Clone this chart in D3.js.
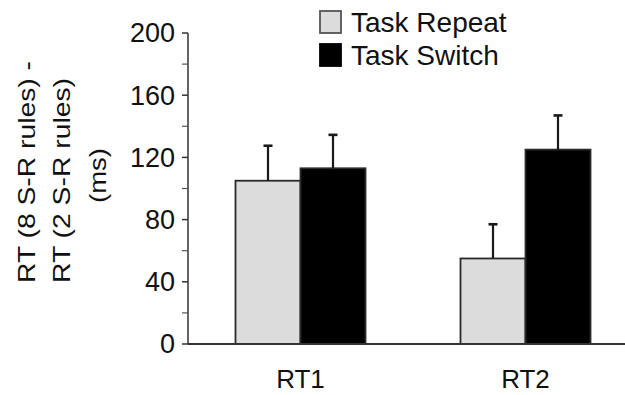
<!DOCTYPE html>
<html lang="en">
<head>
<meta charset="utf-8">
<title>RT difference</title>
<script src="https://cdn.jsdelivr.net/npm/d3@7"></script>
<style>
  body { margin: 0; background: #fff; }
  svg text { font-family: "Liberation Sans", Arial, sans-serif; fill: #111; }
</style>
</head>
<body>
<div id="chart"></div>
<script>
// data
var categories = ["RT1", "RT2"];
var series = ["Task Repeat", "Task Switch"];
var repeatValues = [105, 55];
var switchValues = [113, 125];
var repeatErrors = [22.5, 22];
var switchErrors = [21.5, 22];
var yTicks = [0, 40, 80, 120, 160, 200];
var yMinorTicks = [20, 60, 100, 140, 180];
var yLabelLines = ["RT (8 S-R rules) -", "RT (2 S-R rules)", "(ms)"];

var width = 625, height = 395;
var fills = ["#dcdcdc", "#000"];

var svg = d3.select("#chart").append("svg")
  .attr("width", width)
  .attr("height", height)
  .style("display", "block");

var x0 = d3.scaleBand().domain(categories).range([188, 638])
  .paddingInner(0.4222).paddingOuter(0.2111);
var x1 = d3.scaleBand().domain(series).range([0, x0.bandwidth()]);
var y = d3.scaleLinear().domain([0, 200]).range([344, 33]);

var rows = categories.map(function (c, i) {
  return [
    {cat: c, s: series[0], v: repeatValues[i], e: repeatErrors[i], k: 0},
    {cat: c, s: series[1], v: switchValues[i], e: switchErrors[i], k: 1}
  ];
});
var flat = d3.merge(rows);

// bars
svg.append("g").selectAll("rect")
  .data(flat)
  .enter().append("rect")
  .attr("x", function (d) { return x0(d.cat) + x1(d.s); })
  .attr("y", function (d) { return y(d.v); })
  .attr("width", x1.bandwidth())
  .attr("height", function (d) { return y(0) - y(d.v); })
  .attr("fill", function (d) { return fills[d.k]; })
  .attr("stroke", "#2a2a2a")
  .attr("stroke-width", 1.8);

// error bars
var err = svg.append("g").selectAll("g")
  .data(flat)
  .enter().append("g")
  .attr("stroke", "#1a1a1a");
err.append("line")
  .attr("x1", function (d) { return x0(d.cat) + x1(d.s) + x1.bandwidth() / 2; })
  .attr("x2", function (d) { return x0(d.cat) + x1(d.s) + x1.bandwidth() / 2; })
  .attr("y1", function (d) { return y(d.v); })
  .attr("y2", function (d) { return y(d.v + d.e); })
  .attr("stroke-width", 2.2);
err.append("line")
  .attr("x1", function (d) { return x0(d.cat) + x1(d.s) + x1.bandwidth() / 2 - 4.5; })
  .attr("x2", function (d) { return x0(d.cat) + x1(d.s) + x1.bandwidth() / 2 + 4.5; })
  .attr("y1", function (d) { return y(d.v + d.e); })
  .attr("y2", function (d) { return y(d.v + d.e); })
  .attr("stroke-width", 2.6);

// y axis
var yAxis = svg.append("g").attr("transform", "translate(188,0)");
yAxis.append("line")
  .attr("y1", y(0)).attr("y2", y(200))
  .attr("stroke", "#333").attr("stroke-width", 1.5);
yAxis.selectAll(".major").data(yTicks).enter().append("line")
  .attr("x1", -6).attr("x2", 0)
  .attr("y1", function (d) { return y(d); })
  .attr("y2", function (d) { return y(d); })
  .attr("stroke", "#333").attr("stroke-width", 1.5);
yAxis.selectAll(".minor").data(yMinorTicks).enter().append("line")
  .attr("x1", -6).attr("x2", 0)
  .attr("y1", function (d) { return y(d); })
  .attr("y2", function (d) { return y(d); })
  .attr("stroke", "#555").attr("stroke-width", 1.2);
yAxis.selectAll("text").data(yTicks).enter().append("text")
  .attr("x", -13)
  .attr("y", function (d) { return y(d); })
  .attr("dy", "0.35em")
  .attr("text-anchor", "end")
  .style("font-size", "27px")
  .text(function (d) { return d; });

// x axis
svg.append("line")
  .attr("x1", 188).attr("x2", width)
  .attr("y1", y(0)).attr("y2", y(0))
  .attr("stroke", "#333").attr("stroke-width", 2);
svg.append("g").selectAll("text")
  .data(categories)
  .enter().append("text")
  .attr("x", function (d) { return x0(d) + x0.bandwidth() / 2; })
  .attr("y", 388)
  .attr("text-anchor", "middle")
  .style("font-size", "26px")
  .text(function (d) { return d; });

// y label (glyphs a little condensed, as in the picture)
var yl = svg.append("g").attr("transform", "rotate(-90)");
yl.append("text").attr("x", -283).attr("y", 35)
  .attr("textLength", 222).attr("lengthAdjust", "spacingAndGlyphs")
  .style("font-size", "24px").text(yLabelLines[0]);
yl.append("text").attr("x", -283).attr("y", 70)
  .attr("textLength", 205).attr("lengthAdjust", "spacingAndGlyphs")
  .style("font-size", "24px").text(yLabelLines[1]);
yl.append("text").attr("x", -203).attr("y", 106)
  .attr("textLength", 55).attr("lengthAdjust", "spacingAndGlyphs")
  .style("font-size", "24px").text(yLabelLines[2]);

// legend
var legend = svg.append("g").selectAll("g")
  .data(series)
  .enter().append("g")
  .attr("transform", function (d, i) { return "translate(320," + (11 + i * 33) + ")"; });
legend.append("rect")
  .attr("width", 21).attr("height", 22)
  .attr("fill", function (d, i) { return fills[i]; })
  .attr("stroke", function (d, i) { return i ? "#000" : "#555"; })
  .attr("stroke-width", 1.8);
legend.append("text")
  .attr("x", 31).attr("y", 21)
  .style("font-size", "28px")
  .text(function (d) { return d; });
</script>
</body>
</html>
